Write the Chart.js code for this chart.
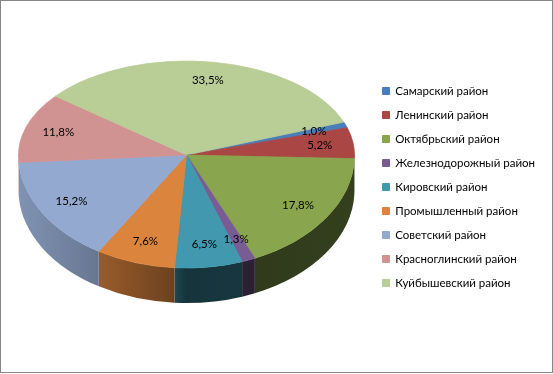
<!DOCTYPE html>
<html>
<head>
<meta charset="utf-8">
<script src="https://cdn.jsdelivr.net/npm/chart.js@4"></script>
<style>
  body { margin: 0; background: #fff; }
  #wrap { position: relative; width: 553px; height: 374px; }
  #frame { position: absolute; left: 0; top: 0; width: 553px; height: 373px; border: 1px solid #868686; box-sizing: border-box; pointer-events: none; }
</style>
</head>
<body>
<div id="wrap">
  <canvas id="myChart" width="553" height="374"></canvas>
  <div id="frame"></div>
</div>
<script>
const districts = [
    'Самарский район',
    'Ленинский район',
    'Октябрьский район',
    'Железнодорожный район',
    'Кировский район',
    'Промышленный район',
    'Советский район',
    'Красноглинский район',
    'Куйбышевский район'
];
const shares = [1.0, 5.2, 17.8, 1.3, 6.5, 7.6, 15.2, 11.8, 33.5];
const colors = ['#4A7EBB', '#AA4643', '#89A54E', '#7A5C94', '#4198AF', '#DB843D', '#93A9CF', '#D19392', '#B9CD96'];

// top face: back half flatter than the front half (fake perspective)
const CX = 186.5, CY = 155, RX = 168, RY_BACK = 94, RY_FRONT = 113, DEPTH = 35;

function shade(hex, k) {
    const n = parseInt(hex.slice(1), 16);
    const r = Math.round(((n >> 16) & 255) * k);
    const g = Math.round(((n >> 8) & 255) * k);
    const b = Math.round((n & 255) * k);
    return 'rgb(' + r + ',' + g + ',' + b + ')';
}

const pie3d = {
    id: 'pie3d',
    beforeDatasetsDraw(chart) {
        const ctx = chart.ctx;
        const arcs = chart.getDatasetMeta(0).data;
        const x0 = CX - RX, w = 2 * RX;
        const light = [[18, 0.87], [90, 0.72], [172, 0.5], [186, 0.34], [355, 0.38]];
        ctx.save();
        arcs.forEach(function(arc, i) {
            const a = Math.max(arc.startAngle, 0);
            const b = Math.min(arc.endAngle, Math.PI);
            if (b <= a) return;
            const grad = ctx.createLinearGradient(x0, 0, x0 + w, 0);
            light.forEach(function(s) {
                grad.addColorStop(Math.min(1, Math.max(0, (s[0] - x0) / w)), shade(colors[i], s[1]));
            });
            ctx.beginPath();
            ctx.ellipse(CX, CY, RX, RY_FRONT, 0, a, b);
            ctx.ellipse(CX, CY + DEPTH, RX, RY_FRONT, 0, b, a, true);
            ctx.closePath();
            ctx.fillStyle = grad;
            ctx.fill();
        });
        ctx.restore();
    },
    beforeDatasetDraw(chart) {
        const ctx = chart.ctx;
        const arcs = chart.getDatasetMeta(0).data;
        const r = arcs[0].outerRadius;
        [[RY_BACK, 0, CY + 0.5], [RY_FRONT, CY - 0.5, chart.height]].forEach(function(p) {
            ctx.save();
            ctx.beginPath();
            ctx.rect(0, p[1], chart.width, p[2] - p[1]);
            ctx.clip();
            ctx.translate(CX, CY);
            ctx.scale(RX / r, p[0] / r);
            ctx.translate(-arcs[0].x, -arcs[0].y);
            arcs.forEach(function(arc) { arc.draw(ctx); });
            ctx.restore();
        });
        return false;
    },
    afterDatasetsDraw(chart) {
        const ctx = chart.ctx;
        const arcs = chart.getDatasetMeta(0).data;
        ctx.save();
        ctx.font = '11.5px Lato, "Open Sans", sans-serif';
        ctx.fillStyle = '#000';
        ctx.textAlign = 'center';
        ctx.textBaseline = 'middle';
        arcs.forEach(function(arc, i) {
            const mid = (arc.startAngle + arc.endAngle) / 2;
            const s = Math.sin(mid);
            const x = CX + 0.8 * RX * Math.cos(mid);
            const y = CY + 0.8 * (s < 0 ? RY_BACK : RY_FRONT) * s;
            ctx.fillText(shares[i].toFixed(1).replace('.', ',') + '%', x, y);
        });
        ctx.restore();
    }
};

const data = {
    labels: districts,
    datasets: [{
        data: shares,
        backgroundColor: colors,
        borderColor: colors,
        borderWidth: 1,
        clip: false
    }]
};

const config = {
    type: 'pie',
    data,
    options: {
        responsive: false,
        animation: false,
        rotation: 69.5,
        layout: { padding: { left: 10, right: 8, top: 10, bottom: 10 } },
        plugins: {
            legend: {
                position: 'right',
                labels: {
                    boxWidth: 7,
                    boxHeight: 7,
                    padding: 12.5,
                    color: '#000',
                    font: { family: 'Lato, "Open Sans", sans-serif', size: 11.5 }
                }
            },
            tooltip: { enabled: false }
        }
    },
    plugins: [pie3d]
};

var myChart = new Chart(
    document.getElementById('myChart'),
    config
);
</script>
</body>
</html>
